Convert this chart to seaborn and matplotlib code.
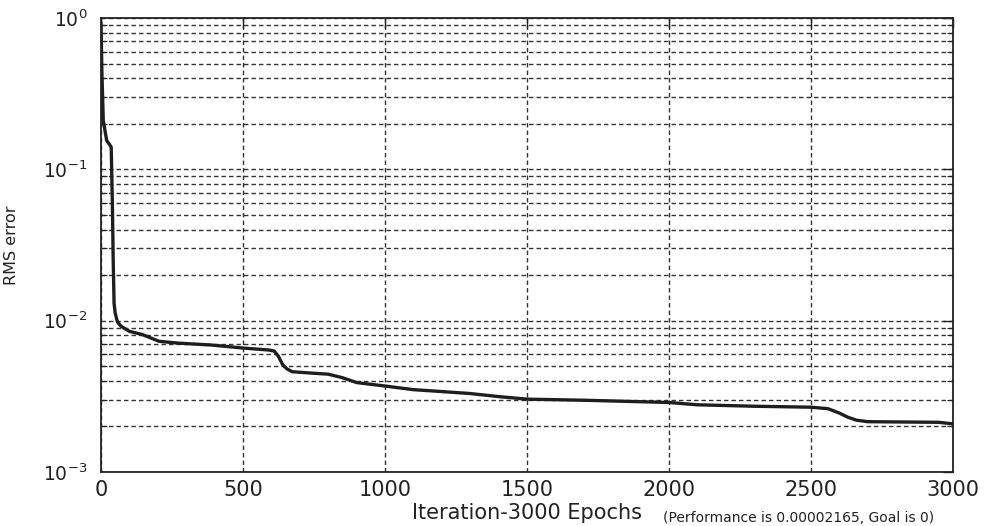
import numpy as np
import pandas as pd
import matplotlib
matplotlib.use("Agg")
import matplotlib.pyplot as plt
import matplotlib.ticker as mticker
import seaborn as sns

# ---- data ----
epochs = [0, 3, 8, 12, 20, 30, 36, 40, 43, 46, 50, 58, 70, 100, 145, 205, 275,
          390, 497, 590, 610, 625, 640, 655, 673, 743, 800, 850, 900, 1000,
          1100, 1200, 1300, 1400, 1500, 1700, 2000, 2100, 2300, 2500, 2560,
          2600, 2630, 2660, 2700, 2950, 3000]
rms_error = [0.93, 0.45, 0.21, 0.19, 0.155, 0.146, 0.14, 0.06, 0.025, 0.013,
             0.0112, 0.0098, 0.0092, 0.0085, 0.0081, 0.0073, 0.0071, 0.0069,
             0.0066, 0.0064, 0.0063, 0.0058, 0.0051, 0.0048, 0.0046, 0.0045,
             0.00443, 0.0042, 0.0039, 0.0037, 0.0035, 0.0034, 0.0033, 0.00315,
             0.00303, 0.00298, 0.00288, 0.00278, 0.00272, 0.00268, 0.00262,
             0.00245, 0.0023, 0.0022, 0.00215, 0.00213, 0.00208]
x_ticks = [0, 500, 1000, 1500, 2000, 2500, 3000]
y_ticks = [1e-3, 1e-2, 1e-1, 1e0]
y_tick_labels = [r"$10^{-3}$", r"$10^{-2}$", r"$10^{-1}$", r"$10^{0}$"]
x_label = "Iteration-3000 Epochs"
y_label = "RMS error"
bottom_text = "(Performance is 0.00002165, Goal is 0)"

df = pd.DataFrame({"epoch": epochs, "rms": rms_error})

sns.set_style("white")
plt.rcParams["font.family"] = ["DejaVu Sans"]
plt.rcParams["mathtext.fontset"] = "dejavusans"
plt.rcParams["mathtext.default"] = "regular"
plt.rcParams["axes.unicode_minus"] = False

fig = plt.figure(figsize=(9.89, 5.26), dpi=100)
ax = fig.add_axes([101 / 989, 1 - 472 / 526, 852 / 989, 454 / 526])

sns.lineplot(data=df, x="epoch", y="rms", ax=ax, color="#1e1e1e",
             linewidth=2.4)

ax.set_yscale("log")
ax.set_xlim(0, 3000)
ax.set_ylim(1e-3, 1e0)
ax.set_xticks(x_ticks)
ax.set_xticklabels([str(t) for t in x_ticks])
ax.yaxis.set_major_locator(mticker.FixedLocator(y_ticks))
ax.yaxis.set_major_formatter(mticker.FixedFormatter(y_tick_labels))
ax.yaxis.set_minor_locator(mticker.LogLocator(base=10, subs=np.arange(2, 10)))
ax.yaxis.set_minor_formatter(mticker.NullFormatter())

grid_kw = dict(color="#333333", linestyle=(0, (3.2, 2.2)), linewidth=1.0)
ax.grid(True, which="major", axis="both", **grid_kw)
ax.grid(True, which="minor", axis="y", **grid_kw)
ax.set_axisbelow(True)

for s in ax.spines.values():
    s.set_visible(True)
    s.set_color("#222222")
    s.set_linewidth(1.3)

ax.tick_params(axis="both", which="major", direction="in", length=7,
               width=1.0, color="#222222", top=True, right=True,
               labelcolor="#222222")
ax.tick_params(axis="x", which="major", labelsize=15, pad=6)
ax.tick_params(axis="y", which="major", labelsize=13.5, pad=10)
ax.tick_params(axis="y", which="minor", direction="in", length=4,
               width=0.8, color="#222222", left=True, right=True)

ax.set_xlabel(x_label, fontsize=15, color="#222222", labelpad=2)
ax.set_ylabel(y_label, fontsize=11.5, color="#222222")
ax.yaxis.set_label_coords((19 - 101) / 852, 0.5)

fig.text(934 / 989, 1 - 525 / 526, bottom_text, fontsize=10,
         color="#222222", ha="right", va="bottom")

fig.savefig("out.png", dpi=100, facecolor="white")
